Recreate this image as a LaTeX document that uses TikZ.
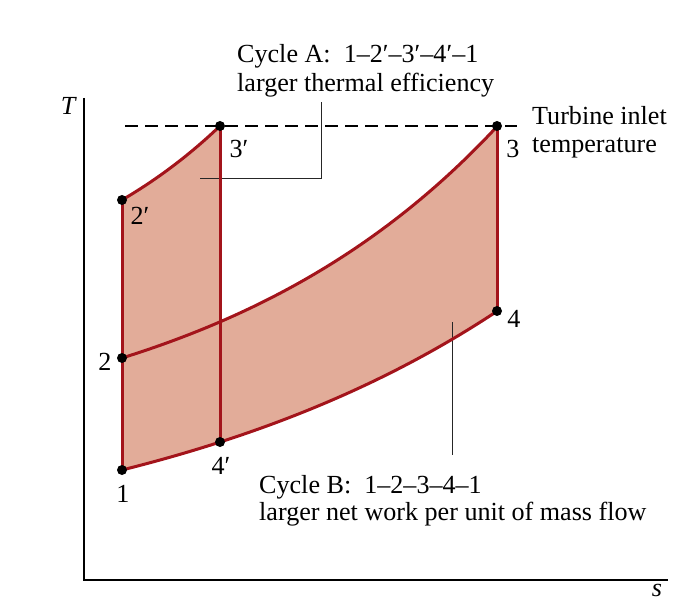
\documentclass[tikz,border=0pt]{standalone}
\usepackage{fontspec}
\setmainfont{Liberation Serif}
\definecolor{fillc}{RGB}{226,172,153}
\definecolor{linec}{RGB}{163,20,27}
\begin{document}
\begin{tikzpicture}[x=1pt,y=-1pt,
  every node/.style={font=\fontsize{26.1}{28}\selectfont, inner sep=0pt},
  txt/.style={anchor=base west},
  lbl/.style={anchor=center},
  proc/.style={draw=linec, line width=3pt, line join=round},
  axis/.style={draw=black, line width=1.3pt},
  leader/.style={draw=black!85, line width=0.9pt},
  dot/.style={circle, fill=black, minimum size=10pt, inner sep=0pt}]
\useasboundingbox (0,0) rectangle (686,604);
% state points
\coordinate (p1) at (122,470);
\coordinate (p2) at (122,358);
\coordinate (p2p) at (122,200);
\coordinate (p3p) at (220,126);
\coordinate (p4p) at (220,442);
\coordinate (p3) at (497,126);
\coordinate (p4) at (497,311);
% fills
\fill[fillc] plot[domain=122:497, samples=80] (\x,{470-96.5*(exp(0.0026*(\x-122))-1)})
  -- (p3) -- plot[domain=497:122, samples=80] (\x,{358-94.8*(exp(0.0033*(\x-122))-1)}) -- cycle;
\fill[fillc] plot[domain=122:220, samples=40] (\x,{470-96.5*(exp(0.0026*(\x-122))-1)})
  -- (p3p) -- plot[domain=220:122, samples=40] (\x,{200-117*(exp(0.005*(\x-122))-1)}) -- cycle;
% axes
\coordinate (o) at (84,580);
\coordinate (ytop) at (84,98);
\coordinate (xend) at (668,580);
\draw[axis] (ytop) -- (o) -- (xend);
\node[lbl] (tlab) at (69,106) {\textit{T}};
\node[lbl] (slab) at (657,590) {\textit{s}};
% turbine inlet temperature line
\coordinate (dl) at (125,126);
\coordinate (dr) at (517,126);
\draw[black, line width=1.3pt, dash pattern=on 13pt off 7pt] (dl) -- (dr);
% leaders
\coordinate (la1) at (200,178);
\coordinate (la2) at (321,178);
\coordinate (la3) at (321,102);
\draw[leader] (la1) -- (la2) -- (la3);
\coordinate (lb1) at (452,322);
\coordinate (lb2) at (452,455);
\draw[leader] (lb1) -- (lb2);
% process lines
\draw[proc] (p1) -- (p2p);
\draw[proc] (p3p) -- (p4p);
\draw[proc] (p3) -- (p4);
\draw[proc] plot[domain=122:497, samples=80] (\x,{470-96.5*(exp(0.0026*(\x-122))-1)});
\draw[proc] plot[domain=122:497, samples=80] (\x,{358-94.8*(exp(0.0033*(\x-122))-1)});
\draw[proc] plot[domain=122:220, samples=40] (\x,{200-117*(exp(0.005*(\x-122))-1)});
% dots
\foreach \p in {p1,p2,p2p,p3p,p4p,p3,p4} \node[dot] at (\p) {};
% point labels
\node[lbl] (l1) at (123,494) {1};
\node[lbl] (l2) at (105,362) {2};
\node[lbl] (l2p) at (140,216) {2′};
\node[lbl] (l3p) at (239,149) {3′};
\node[lbl] (l4p) at (221,466) {4′};
\node[lbl] (l3) at (513,149) {3};
\node[lbl] (l4) at (514,319) {4};
% texts
\node[txt] (ta1) at (237,63) {Cycle A:\ \ 1–2′–3′–4′–1};
\node[txt] (ta2) at (237,92) {larger thermal efficiency};
\node[txt] (tt1) at (532,125) {Turbine inlet};
\node[txt] (tt2) at (532,153) {temperature};
\node[txt] (tb1) at (259,493) {Cycle B:\ \ 1–2–3–4–1};
\node[txt] (tb2) at (259,520) {larger net work per unit of mass flow};
\end{tikzpicture}
\end{document}
